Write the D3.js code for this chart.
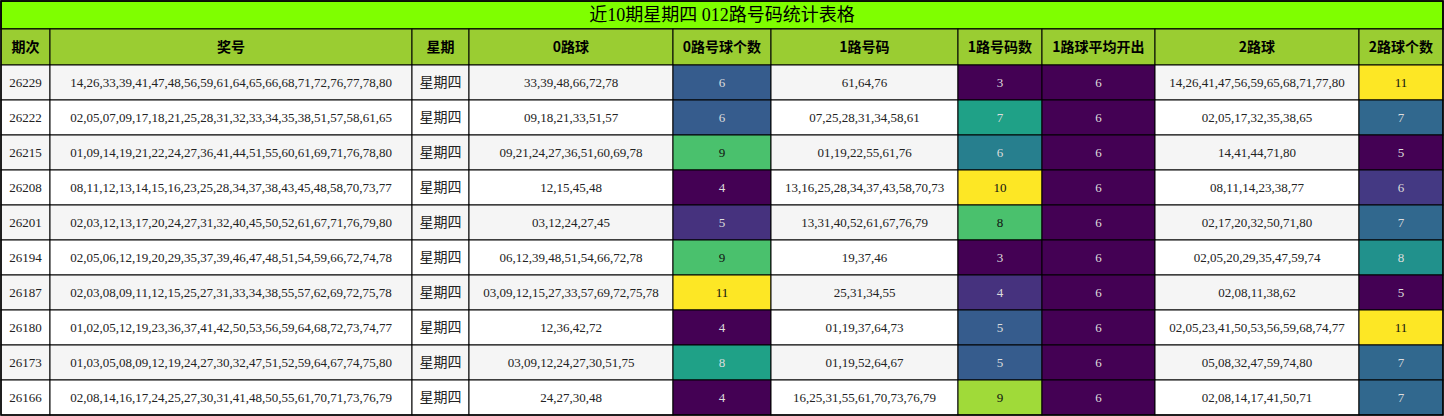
<!DOCTYPE html>
<html><head><meta charset="utf-8">
<script src="https://cdn.jsdelivr.net/npm/d3@7"></script>
<style>body{margin:0;background:#fff}svg{display:block}</style>
</head><body>
<svg id="c" width="1444" height="416"></svg>
<script>
const title = "近10期星期四 012路号码统计表格";
const headers = ["期次","奖号","星期","0路球","0路号球个数","1路号码","1路号码数","1路球平均开出","2路球","2路球个数"];
const periods = ["26229","26222","26215","26208","26201","26194","26187","26180","26173","26166"];
const draws = [
"14,26,33,39,41,47,48,56,59,61,64,65,66,68,71,72,76,77,78,80",
"02,05,07,09,17,18,21,25,28,31,32,33,34,35,38,51,57,58,61,65",
"01,09,14,19,21,22,24,27,36,41,44,51,55,60,61,69,71,76,78,80",
"08,11,12,13,14,15,16,23,25,28,34,37,38,43,45,48,58,70,73,77",
"02,03,12,13,17,20,24,27,31,32,40,45,50,52,61,67,71,76,79,80",
"02,05,06,12,19,20,29,35,37,39,46,47,48,51,54,59,66,72,74,78",
"02,03,08,09,11,12,15,25,27,31,33,34,38,55,57,62,69,72,75,78",
"01,02,05,12,19,23,36,37,41,42,50,53,56,59,64,68,72,73,74,77",
"01,03,05,08,09,12,19,24,27,30,32,47,51,52,59,64,67,74,75,80",
"02,08,14,16,17,24,25,27,30,31,41,48,50,55,61,70,71,73,76,79"];
const weekday = "星期四";
const road0 = ["33,39,48,66,72,78","09,18,21,33,51,57","09,21,24,27,36,51,60,69,78","12,15,45,48","03,12,24,27,45","06,12,39,48,51,54,66,72,78","03,09,12,15,27,33,57,69,72,75,78","12,36,42,72","03,09,12,24,27,30,51,75","24,27,30,48"];
const count0 = [6,6,9,4,5,9,11,4,8,4];
const road1 = ["61,64,76","07,25,28,31,34,58,61","01,19,22,55,61,76","13,16,25,28,34,37,43,58,70,73","13,31,40,52,61,67,76,79","19,37,46","25,31,34,55","01,19,37,64,73","01,19,52,64,67","16,25,31,55,61,70,73,76,79"];
const count1 = [3,7,6,10,8,3,4,5,5,9];
const avg1 = [6,6,6,6,6,6,6,6,6,6];
const road2 = ["14,26,41,47,56,59,65,68,71,77,80","02,05,17,32,35,38,65","14,41,44,71,80","08,11,14,23,38,77","02,17,20,32,50,71,80","02,05,20,29,35,47,59,74","02,08,11,38,62","02,05,23,41,50,53,56,59,68,74,77","05,08,32,47,59,74,80","02,08,14,17,41,50,71"];
const count2 = [11,7,5,6,7,8,5,11,7,7];

const colW = [49,362,57,204,98,187,84,113,204,84];
const columns = [periods,draws,periods.map(()=>weekday),road0,count0,road1,count1,avg1,road2,count2];
const colored = {4:count0,6:count1,7:avg1,9:count2};

const svg = d3.select("#c");
const x0 = 1, titleH = 28, headH = 36, bodyTop = 1+titleH+headH;
const edges = [x0]; colW.forEach(w=>edges.push(edges[edges.length-1]+w));
const W = edges[edges.length-1]-x0;
const y = d3.scaleBand().domain(d3.range(periods.length)).range([bodyTop, 415]);
const font = "'Liberation Serif','Noto Sans CJK SC',serif";

svg.append("rect").attr("x",x0).attr("y",1).attr("width",W).attr("height",titleH).attr("fill","#7fff00").attr("stroke","#000").attr("stroke-width",1.5);
svg.append("text").attr("x",x0+W/2).attr("y",1+titleH/2).attr("dy","0.35em").attr("text-anchor","middle")
  .attr("font-family",font).attr("font-size",18).text(title);

const hg = svg.append("g");
headers.forEach((h,i)=>{
  hg.append("rect").attr("x",edges[i]).attr("y",1+titleH).attr("width",colW[i]).attr("height",headH).attr("fill","#9acd32").attr("stroke","#000").attr("stroke-width",1);
  hg.append("text").attr("x",edges[i]+colW[i]/2).attr("y",1+titleH+headH/2).attr("dy","0.35em").attr("text-anchor","middle")
    .attr("font-family","'Noto Sans CJK SC',sans-serif").attr("font-weight","bold").attr("font-size",14).text(h);
});

const scales = {};
Object.entries(colored).forEach(([k,v])=>{
  const [mn,mx] = d3.extent(v);
  scales[k] = val => d3.interpolateViridis(mx===mn ? 0 : (val-mn)/(mx-mn));
});

const rows = svg.append("g").selectAll("g").data(d3.range(periods.length)).join("g");
columns.forEach((col,ci)=>{
  rows.append("rect").attr("x",edges[ci]).attr("y",r=>y(r)).attr("width",colW[ci]).attr("height",y.bandwidth())
    .attr("fill",r=> scales[ci] ? scales[ci](col[r]) : (r%2===0?"#f5f5f5":"#ffffff"))
    .attr("stroke","#000").attr("stroke-width",1);
  rows.append("text").attr("x",edges[ci]+colW[ci]/2).attr("y",r=>y(r)+y.bandwidth()/2).attr("dy","0.35em").attr("text-anchor","middle")
    .attr("font-family", ci===2 ? "'Noto Sans CJK SC',sans-serif" : font).attr("font-size", ci===2?14:13)
    .attr("fill", r=>{ if(!scales[ci]) return "#222"; const c=d3.hsl(scales[ci](col[r])); return c.l>0.5?"#111":"#ddd"; })
    .text(r=>col[r]);
});
svg.append("rect").attr("x",x0).attr("y",1).attr("width",W).attr("height",414).attr("fill","none").attr("stroke","#000").attr("stroke-width",1.5);
</script>
</body></html>
